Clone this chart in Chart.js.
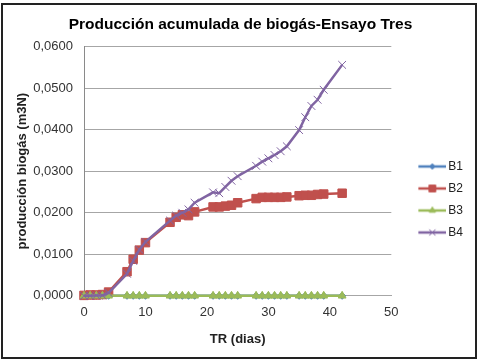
<!DOCTYPE html>
<html>
<head>
<meta charset="utf-8">
<script src="https://cdn.jsdelivr.net/npm/chart.js@4"></script>
<style>
  html, body { margin: 0; padding: 0; background: #fff; }
  #wrap { position: relative; width: 484px; height: 363px; }
  #frame { position: absolute; left: 1px; top: 3px; width: 472px; height: 352px; border: 2px solid #222; pointer-events: none; }
</style>
</head>
<body>
<div id="wrap">
  <canvas id="chart" width="484" height="363"></canvas>
  <div id="frame"></div>
</div>
<script>
// days (TR)
const days = [0, 1, 2, 3, 4, 7, 8, 9, 10, 14, 15, 16, 17, 18, 21, 22, 23, 24, 25, 28, 29, 30, 31, 32, 33, 35, 36, 37, 38, 39, 42];

const b1 = [0, 0, 0, 0, 0, 0, 0, 0, 0, 0, 0, 0, 0, 0, 0, 0, 0, 0, 0, 0, 0, 0, 0, 0, 0, 0, 0, 0, 0, 0, 0];
const b2 = [0.0001, 0.0002, 0.0002, 0.0003, 0.0009, 0.0058, 0.0088, 0.0110, 0.0128, 0.0177, 0.0189, 0.0195, 0.0193, 0.0202,
            0.0214, 0.0214, 0.0216, 0.0218, 0.0224, 0.0234, 0.0237, 0.0237, 0.0237, 0.0237, 0.0238,
            0.0241, 0.0242, 0.0242, 0.0244, 0.0245, 0.0247];
const b3 = [0, 0, 0, 0, 0, 0, 0, 0, 0, 0, 0, 0, 0, 0, 0, 0, 0, 0, 0, 0, 0, 0, 0, 0, 0, 0, 0, 0, 0, 0, 0];
const b4 = [0.0000, 0.0000, 0.0001, 0.0001, 0.0007, 0.0053, 0.0084, 0.0111, 0.0130, 0.0181, 0.0193, 0.0200, 0.0208, 0.0224,
            0.0249, 0.0247, 0.0262, 0.0277, 0.0288, 0.0313, 0.0323, 0.0331, 0.0339, 0.0348, 0.0360,
            0.0399, 0.0430, 0.0457, 0.0472, 0.0496, 0.0556];

const yTicks = [0, 0.01, 0.02, 0.03, 0.04, 0.05, 0.06];
const xTicks = [0, 10, 20, 30, 40, 50];

const FONT = "'Liberation Sans', Arial, sans-serif";

const series = [
  { label: 'B1', data: b1, color: '#4F81BD', style: 'rectRot', radius: 3.5, order: 4 },
  { label: 'B2', data: b2, color: '#C0504D', style: 'rect', radius: 6, order: 3 },
  { label: 'B3', data: b3, color: '#9BBB59', style: 'triangle', radius: 4.5, order: 2 },
  { label: 'B4', data: b4, color: '#8064A2', style: 'crossRot', radius: 5.5, order: 1 }
];

// legend swatch: short line with the series marker in the middle
function swatch(s) {
  const c = document.createElement('canvas');
  c.width = 49; c.height = 12;
  const ctx = c.getContext('2d');
  ctx.strokeStyle = s.color;
  ctx.fillStyle = s.color;
  ctx.lineWidth = 2.5;
  ctx.beginPath();
  ctx.moveTo(21, 6); ctx.lineTo(49, 6);
  ctx.stroke();
  ctx.lineWidth = 1;
  Chart.helpers.drawPoint(ctx, { pointStyle: s.style, radius: s.radius * 0.8, borderWidth: 1 }, 35, 6);
  return c;
}

const datasets = series.map(s => ({
  label: s.label,
  data: days.map((d, i) => ({ x: d, y: s.data[i] })),
  borderColor: s.color,
  backgroundColor: s.color,
  borderWidth: 2.5,
  pointStyle: s.style,
  pointRadius: s.radius,
  pointBorderWidth: 1,
  pointBackgroundColor: s.color,
  pointBorderColor: s.color,
  tension: 0,
  clip: false,
  order: s.order,
  swatch: swatch(s)
}));

new Chart(document.getElementById('chart'), {
  type: 'line',
  data: { datasets },
  options: {
    responsive: false,
    animation: false,
    layout: { padding: { left: 8, right: 11, top: 0, bottom: 10 } },
    plugins: {
      tooltip: { enabled: false },
      title: {
        display: true,
        text: 'Producción acumulada de biogás-Ensayo Tres',
        color: '#000',
        font: { family: FONT, size: 15.5, weight: 'bold' },
        padding: { top: 15, bottom: 13 }
      },
      legend: {
        position: 'right',
        align: 'center',
        sort: (a, b) => a.datasetIndex - b.datasetIndex,
        // empty title only pushes the entries down a little
        title: { display: true, text: ' ', font: { size: 5 }, padding: { top: 40, bottom: 0 } },
        labels: {
          usePointStyle: true,
          pointStyleWidth: 41,
          padding: 10,
          color: '#222',
          font: { family: FONT, size: 12 },
          generateLabels: (chart) => chart.data.datasets.map((ds, i) => ({
            text: ds.label,
            datasetIndex: i,
            pointStyle: ds.swatch,
            fillStyle: ds.borderColor,
            strokeStyle: ds.borderColor,
            fontColor: '#222',
            lineWidth: 0,
            hidden: false
          }))
        }
      }
    },
    scales: {
      x: {
        type: 'linear',
        min: 0,
        max: 50,
        afterBuildTicks: (scale) => { scale.ticks = xTicks.map(v => ({ value: v })); },
        grid: { display: false, drawTicks: false },
        border: { display: true, color: '#a6a6a6' },
        ticks: { color: '#333', padding: 9, font: { family: FONT, size: 13 } },
        title: {
          display: true,
          text: 'TR (dias)',
          color: '#222',
          font: { family: FONT, size: 13, weight: 'bold' },
          padding: { top: 2, bottom: 6 }
        }
      },
      y: {
        min: 0,
        max: 0.06,
        afterBuildTicks: (scale) => { scale.ticks = yTicks.map(v => ({ value: v })); },
        afterFit: (scale) => { scale.width = 76; },
        grid: { color: '#a6a6a6', lineWidth: 1, drawTicks: false },
        border: { display: true, color: '#8a8a8a' },
        ticks: {
          color: '#333',
          padding: 11,
          font: { family: FONT, size: 13 },
          callback: (v) => v.toFixed(4).replace('.', ',')
        },
        title: {
          display: true,
          text: 'producción biogás (m3N)',
          color: '#222',
          font: { family: FONT, size: 13, weight: 'bold' },
          padding: { top: 7, bottom: 0 }
        }
      }
    }
  }
});
</script>
</body>
</html>
